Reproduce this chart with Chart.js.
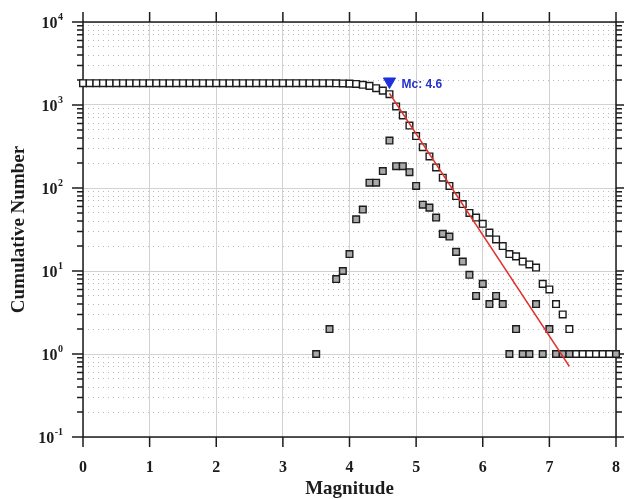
<!DOCTYPE html>
<html>
<head>
<meta charset="utf-8">
<title>Frequency-magnitude distribution</title>
<script src="https://cdn.jsdelivr.net/npm/chart.js@4/dist/chart.umd.min.js"></script>
<style>
  html, body { margin: 0; padding: 0; background: #fff; }
</style>
</head>
<body>
<canvas id="fmd" width="624" height="499"></canvas>
<script>
// magnitude bins (0.1 wide) and cumulative counts N(>=M)
var MAGS = [
  0.0, 0.1, 0.2, 0.3, 0.4, 0.5, 0.6, 0.7, 0.8, 0.9,
  1.0, 1.1, 1.2, 1.3, 1.4, 1.5, 1.6, 1.7, 1.8, 1.9,
  2.0, 2.1, 2.2, 2.3, 2.4, 2.5, 2.6, 2.7, 2.8, 2.9,
  3.0, 3.1, 3.2, 3.3, 3.4, 3.5, 3.6, 3.7, 3.8, 3.9,
  4.0, 4.1, 4.2, 4.3, 4.4, 4.5, 4.6, 4.7, 4.8, 4.9,
  5.0, 5.1, 5.2, 5.3, 5.4, 5.5, 5.6, 5.7, 5.8, 5.9,
  6.0, 6.1, 6.2, 6.3, 6.4, 6.5, 6.6, 6.7, 6.8, 6.9,
  7.0, 7.1, 7.2, 7.3, 7.4, 7.5, 7.6, 7.7, 7.8, 7.9,
  8.0
];
var CUMULATIVE = [
  1830, 1830, 1830, 1830, 1830, 1830, 1830, 1830, 1830, 1830,
  1830, 1830, 1830, 1830, 1830, 1830, 1830, 1830, 1830, 1830,
  1830, 1830, 1830, 1830, 1830, 1830, 1830, 1830, 1830, 1830,
  1830, 1830, 1830, 1830, 1830, 1830, 1829, 1829, 1827, 1819,
  1809, 1793, 1751, 1700, 1595, 1490, 1350, 960, 750, 566,
  422, 310, 240, 177, 133, 106, 80, 64, 50, 44,
  37, 29, 24, 20, 16, 15, 13, 12, 11, 7,
  6, 4, 3, 2, 1, 1, 1, 1, 1, 1,
  1
];

// non-cumulative counts per bin (empty bins left out)
var BIN_MAGS = [
  3.5, 3.7, 3.8, 3.9, 4.0, 4.1, 4.2, 4.3, 4.4, 4.5,
  4.6, 4.7, 4.8, 4.9, 5.0, 5.1, 5.2, 5.3, 5.4, 5.5,
  5.6, 5.7, 5.8, 5.9, 6.0, 6.1, 6.2, 6.3, 6.4, 6.5,
  6.6, 6.7, 6.8, 6.9, 7.0, 7.1, 7.2, 7.3, 8.0
];
var BIN_COUNTS = [
  1, 2, 8, 10, 16, 42, 55, 116, 116, 160,
  373, 183, 183, 155, 106, 63, 58, 44, 28, 26,
  17, 13, 9, 5, 7, 4, 5, 4, 1, 2,
  1, 1, 4, 1, 2, 1, 1, 1, 1
];

// Gutenberg-Richter fit above Mc
var FIT_MAGS = [4.6, 7.3];
var FIT_COUNTS = [1380, 0.71];

// magnitude of completeness and its marker height
var MC = 4.6;
var MC_MARK = 1920;

var X_TICKS = [0, 1, 2, 3, 4, 5, 6, 7, 8];
var Y_DECADES = [0.1, 1, 10, 100, 1000, 10000];
var Y_MINOR = [2, 3, 4, 5, 6, 7, 8, 9];

var INK = "#1c1c1c", RED = "#e0302c", BLUE = "#1f30dd", GREY = "#a9a9a9";
var SERIF = "'Liberation Serif', 'Times New Roman', serif";

function pairs(xs, ys) {
  return xs.map(function (x, i) { return { x: x, y: ys[i] }; });
}

function isDecade(v) {
  var l = Math.log10(v);
  return Math.abs(l - Math.round(l)) < 1e-6;
}

var yTickValues = [];
Y_DECADES.forEach(function (d, i) {
  yTickValues.push(d);
  if (i < Y_DECADES.length - 1) {
    Y_MINOR.forEach(function (m) { yTickValues.push(d * m); });
  }
});

// box, outward tick marks, 10^n labels and the Mc note
var framePlugin = {
  id: "frame",
  beforeDatasetsDraw: function (chart) {
    var a = chart.chartArea, c = chart.ctx;
    var xs = chart.scales.x, ys = chart.scales.y;
    c.save();
    c.strokeStyle = INK;
    c.lineWidth = 1.5;
    c.strokeRect(a.left, a.top, a.right - a.left, a.bottom - a.top);
    c.beginPath();
    X_TICKS.forEach(function (v) {
      var px = xs.getPixelForValue(v);
      c.moveTo(px, a.bottom); c.lineTo(px, a.bottom + 10);
      c.moveTo(px, a.top); c.lineTo(px, a.top - 10);
    });
    yTickValues.forEach(function (v) {
      var py = ys.getPixelForValue(v), major = isDecade(v);
      c.moveTo(a.left - (major ? 11 : 6), py); c.lineTo(a.left, py);
      c.moveTo(a.right, py); c.lineTo(a.right + (major ? 9 : 6), py);
    });
    c.stroke();

    c.fillStyle = INK;
    c.textBaseline = "middle";
    c.textAlign = "left";
    Y_DECADES.forEach(function (d) {
      var py = ys.getPixelForValue(d);
      var exp = String(Math.round(Math.log10(d)));
      c.font = "bold 10px " + SERIF;
      var we = c.measureText(exp).width;
      c.font = "bold 16px " + SERIF;
      var wt = c.measureText("10").width;
      var ex = 63 - we;
      c.fillText("10", ex - wt - 0.5, py + 2);
      c.font = "bold 10px " + SERIF;
      c.fillText(exp, ex, py - 5);
    });
    c.restore();
  },
  afterDatasetsDraw: function (chart) {
    var c = chart.ctx, xs = chart.scales.x, ys = chart.scales.y;
    c.save();
    c.fillStyle = "#2432cc";
    c.font = "bold 12px 'Liberation Sans', Arial, sans-serif";
    c.textBaseline = "middle";
    c.fillText("Mc: " + MC.toFixed(1), xs.getPixelForValue(MC) + 12, ys.getPixelForValue(MC_MARK) + 3);
    c.restore();
  }
};

new Chart(document.getElementById("fmd"), {
  type: "scatter",
  data: {
    datasets: [
      {
        label: "G-R fit",
        data: pairs(FIT_MAGS, FIT_COUNTS),
        showLine: true,
        borderColor: RED,
        borderWidth: 1.6,
        pointRadius: 0,
        order: 0,
        clip: false
      },
      {
        label: "Mc",
        data: [{ x: MC, y: MC_MARK }],
        pointStyle: "triangle",
        rotation: 180,
        pointRadius: 7,
        backgroundColor: BLUE,
        borderColor: BLUE,
        borderWidth: 1,
        order: 1,
        clip: false
      },
      {
        label: "Non-cumulative",
        data: pairs(BIN_MAGS, BIN_COUNTS),
        pointStyle: "rect",
        pointRadius: 4.7,
        backgroundColor: GREY,
        borderColor: INK,
        borderWidth: 1.4,
        order: 2,
        clip: false
      },
      {
        label: "Cumulative",
        data: pairs(MAGS, CUMULATIVE),
        pointStyle: "rect",
        pointRadius: 4.7,
        backgroundColor: "#ffffff",
        borderColor: INK,
        borderWidth: 1.4,
        order: 3,
        clip: false
      }
    ]
  },
  options: {
    responsive: false,
    animation: false,
    layout: { padding: { top: 22, right: 7, left: 0, bottom: 0 } },
    plugins: { legend: { display: false }, tooltip: { enabled: false } },
    scales: {
      x: {
        type: "linear",
        position: "bottom",
        min: 0,
        max: 8,
        afterBuildTicks: function (s) { s.ticks = X_TICKS.map(function (v) { return { value: v }; }); },
        afterFit: function (s) {
          // tick padding would otherwise also be reserved at the sides
          s.height = 62;
          s.paddingLeft = 0;
          s.paddingRight = 0;
        },
        ticks: {
          color: INK,
          padding: 21,
          font: { family: SERIF, weight: "bold", size: 16 }
        },
        grid: { color: "#d2d2d2", lineWidth: 1, drawTicks: false },
        border: { display: false },
        title: {
          display: true,
          text: "Magnitude",
          color: INK,
          padding: { top: 0, bottom: -1 },
          font: { family: SERIF, weight: "bold", size: 19 }
        }
      },
      y: {
        type: "logarithmic",
        position: "left",
        min: 0.1,
        max: 10000,
        afterBuildTicks: function (s) { s.ticks = yTickValues.map(function (v) { return { value: v }; }); },
        afterFit: function (s) { s.width = 83; },
        ticks: { display: false },
        grid: {
          drawTicks: false,
          lineWidth: 1,
          color: function (ctx) {
            return ctx.tick && isDecade(ctx.tick.value) ? "#d2d2d2" : "#b8b8b8";
          }
        },
        border: {
          display: false,
          dash: function (ctx) {
            return ctx.tick && !isDecade(ctx.tick.value) ? [1, 4] : [];
          }
        },
        title: {
          display: true,
          text: "Cumulative Number",
          color: INK,
          padding: { top: 8, bottom: 0 },
          font: { family: SERIF, weight: "bold", size: 19 }
        }
      }
    }
  },
  plugins: [framePlugin]
});
</script>
</body>
</html>
